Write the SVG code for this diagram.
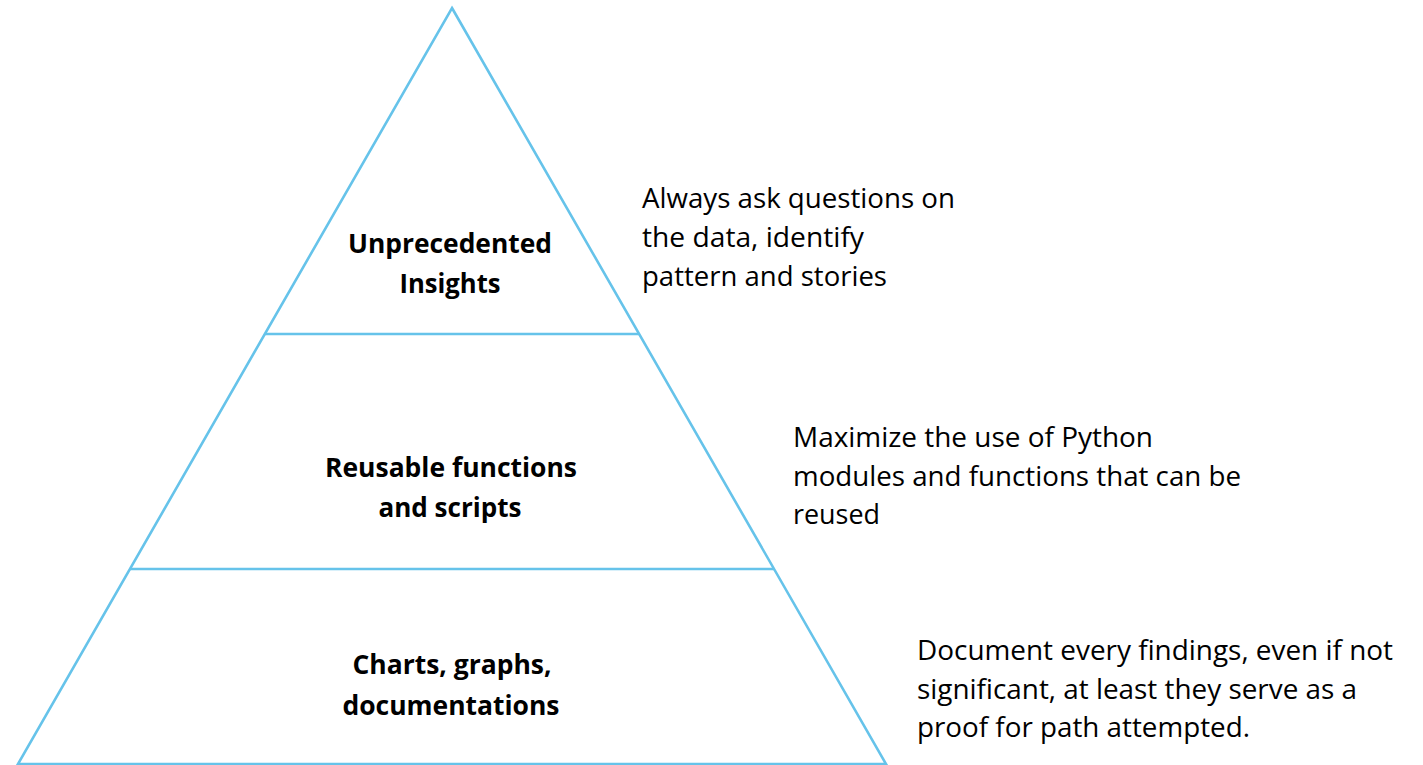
<svg xmlns="http://www.w3.org/2000/svg" width="1423" height="765" viewBox="0 0 1423 765">
<style>
.edge{fill:none;stroke:#66C3EA;stroke-width:2.6;stroke-linejoin:miter}
.lbl{font-family:"Open Sans","Liberation Sans",sans-serif;font-weight:bold;font-size:26px;fill:#000;text-anchor:middle}
.note{font-family:"Open Sans","Liberation Sans",sans-serif;font-size:27px;fill:#000}
</style>
<rect width="1423" height="765" fill="#fff"/>
<g id="connectors">
<polygon class="edge" points="452,8 886,764 18,764"/>
<line class="edge" x1="265" y1="334" x2="639" y2="334"/>
<line class="edge" x1="130" y1="569" x2="774" y2="569"/>
</g>
<g id="tier-top">
<text class="lbl" x="450" y="253" textLength="204" lengthAdjust="spacingAndGlyphs">Unprecedented</text>
<text class="lbl" x="450" y="293" textLength="101" lengthAdjust="spacingAndGlyphs">Insights</text>
</g>
<g id="tier-middle">
<text class="lbl" x="451" y="477" textLength="252" lengthAdjust="spacingAndGlyphs">Reusable functions</text>
<text class="lbl" x="450" y="517" textLength="143" lengthAdjust="spacingAndGlyphs">and scripts</text>
</g>
<g id="tier-bottom">
<text class="lbl" x="452" y="674" textLength="199" lengthAdjust="spacingAndGlyphs">Charts, graphs,</text>
<text class="lbl" x="451" y="715" textLength="217" lengthAdjust="spacingAndGlyphs">documentations</text>
</g>
<g id="note-top">
<text class="note" x="642" y="208" textLength="313" lengthAdjust="spacingAndGlyphs">Always ask questions on</text>
<text class="note" x="642" y="247" textLength="222" lengthAdjust="spacingAndGlyphs">the data, identify</text>
<text class="note" x="642" y="286" textLength="245" lengthAdjust="spacingAndGlyphs">pattern and stories</text>
</g>
<g id="note-middle">
<text class="note" x="793" y="447" textLength="360" lengthAdjust="spacingAndGlyphs">Maximize the use of Python</text>
<text class="note" x="793" y="486" textLength="448" lengthAdjust="spacingAndGlyphs">modules and functions that can be</text>
<text class="note" x="793" y="524" textLength="87" lengthAdjust="spacingAndGlyphs">reused</text>
</g>
<g id="note-bottom">
<text class="note" x="917" y="660" textLength="476" lengthAdjust="spacingAndGlyphs">Document every findings, even if not</text>
<text class="note" x="917" y="699" textLength="440" lengthAdjust="spacingAndGlyphs">significant, at least they serve as a</text>
<text class="note" x="917" y="737" textLength="333" lengthAdjust="spacingAndGlyphs">proof for path attempted.</text>
</g>
</svg>
